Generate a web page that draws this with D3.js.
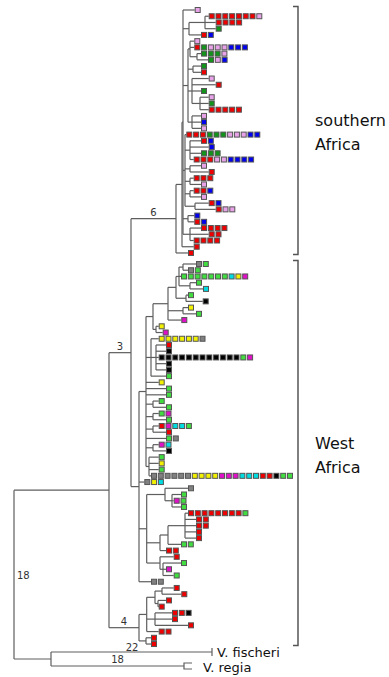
<!DOCTYPE html>
<html><head><meta charset="utf-8">
<script src="https://cdn.jsdelivr.net/npm/d3@7"></script>
<style>body{margin:0;background:#fff}svg{display:block}</style>
</head><body><svg id="chart" width="389" height="677"></svg>
<script>
// ---------- DATA ----------
// colour codes per leaf (left to right squares)
const southernColors = ["P","RRRRRRRP","RRRR","g","RB","P","RgPPPBBB","gggP","gPB","g",
  "R","P","R","g","P","g","RRRRR","P","B","P",
  "RRRgggPPPBB","RB","B","ggg","RRRPPBBBB","P","R","RRR","P","RRB",
  "P","RB","RPP","B","RB","RRRR","RR","RRRR","R","R"];
const westColors = ["AG","AG","GGGGGGGCYM","G","C","G","K","Y","G","M",
  "Y","M","YYYYYYA","R","K","KKKKKKKKKKKKGM","K","K","G","Y",
  "G","G","G","G","GM","G","RMCCG","R","GA","MC",
  "K","G","Y","G","AAAAAAYYYYMMMCCCRRKGG","AYC","A","G","MG","G",
  "RRRRRRRRG","RR","RR","R","R","GG","RR","R","G","M","G","AA"];
const basalColors = ["R","R","R","R","RRK","R","R","RR","R","R"];
const outgroupNames = {fischeri:"V. fischeri", regia:"V. regia"};
const colorNames = {R:"#ee0000",P:"#e8a2e8",B:"#0000ee",g:"#12941a",G:"#40dc40",
  Y:"#f0f000",C:"#00dce0",M:"#e010c8",K:"#000000",A:"#808080"};

// trees: "(children)name:depth", leaf "id:depth" (depth = distance from root)
const southernTree = "(((s0:180.7,((s1:194.7,s2:201.7,s3:201.7):191,s4:187):175,((s5:180.3,s6:180.3,(s7:187,s8:194):183):176,(s9:187,s10:187):179,(s11:194.7,s12:201.7,s13:187,(s14:194.7,s15:194.7,s16:194.7):186):178,(s17:187,s18:187,s19:187):178):174,(s20:172.3,(s21:187,s22:194.7,s23:187,s24:179.7):176,(s25:187,s26:194.7):176,(s27:179.7,s28:187):176,(s29:179.7,s30:187):176,(s31:194.7,s32:201.7):181):171,(s33:180.3,s34:180.3):174,(s35:187,s36:194.7,s37:179.7):176):169,s38:179.7):168,s39:174)S:162";
const westTree = "(((((((w0:182,w1:174):169,w2:167,(w3:182,w4:189):176):165,(w5:174,w6:188.7):172):162,(w7:174,w8:182):169,w9:167.3):154,(w10:144.7,w11:148.7):142):139,(w12:144.7,(w13:152,w14:152,w15:144.7,w16:152,w17:152):142,w18:152):137,w19:144.7,w20:152,w21:152,(w22:144.7,w23:152):139,(w24:144.7,w25:152):139,(w26:144.7,w27:152):139,w28:152,(w29:144.7,w30:152):139,(w31:144.7,w32:144.7,w33:144.7,w34:137):135):132,w35:130.3,((w36:174,(w37:167,w38:159.7,w39:167):158):151,(((w40:174,w41:182,w42:182,w43:182,w44:182):171,w45:167):154,w46:152):146,(w47:159.7,(w48:167,w49:152,w50:159.7):149):146):132.7,w51:137)W:125";
const basalTree = "((((b0:159.7,b1:167.3):148,(b2:152,b3:144.7):144):141,(b4:158,b5:158,b6:174):141,b7:144.7):132.7,(b8:137,b9:137)C4b:132)C4:125";
const backboneTree = "(((SOUTH,WEST)A:117,BASAL)IN:95,(fischeri:198,regia:170)OUT:37)ROOT:0";

const supportLabels = [
  {node:"S", text:"6", place:"above"},
  {node:"A", text:"3", place:"above"},
  {node:"C4", text:"4", place:"above"},
  {node:"C4b", text:"22", place:"belowleft"},
  {node:"ROOT", text:"18", place:"right"},
  {node:"regia", text:"18", place:"above"}
];
const cladeBrackets = [
  {lines:["southern","Africa"], from:"s0", to:"s39"},
  {lines:["West","Africa"], from:"w0", to:"b9"}
];

// ---------- LAYOUT ----------
const svg = d3.select("#chart");
svg.append("rect").attr("width",389).attr("height",677).attr("fill","#fff");

function parseTree(str){
  const s = str.replace(/\s+/g,"");
  let i = 0;
  function readUntil(re){ const st=i; while(i<s.length && !re.test(s[i])) i++; return s.slice(st,i); }
  function node(){
    const n = {};
    if (s[i]==="("){
      i++; n.children=[node()];
      while (s[i]===","){ i++; n.children.push(node()); }
      i++;
    }
    n.name = readUntil(/[:,()]/);
    if (s[i]===":"){ i++; n.depth = +readUntil(/[,()]/); }
    return n;
  }
  return node();
}

const fullTree = backboneTree.replace("SOUTH", southernTree).replace("WEST", westTree).replace("BASAL", basalTree);
const root = d3.hierarchy(parseTree(fullTree));

const colorsById = {};
southernColors.forEach((c,i)=>colorsById["s"+i]=c);
westColors.forEach((c,i)=>colorsById["w"+i]=c);
basalColors.forEach((c,i)=>colorsById["b"+i]=c);

const xScale = d3.scaleLinear().domain([0,200]).range([14,214]);
const yScale = d3.scaleLinear().domain([0,1]).range([10,16.23]);
const rowGapBefore = {w0:0.77, fischeri:0.28, regia:1.25};

let extra = 0;
const leaves = root.leaves();
leaves.forEach((lf,k)=>{
  extra += rowGapBefore[lf.data.name] || 0;
  lf.y = yScale(k + extra);
});
root.eachAfter(n=>{
  n.x = xScale(n.data.depth);
  if (n.children) n.y = (n.children[0].y + n.children[n.children.length-1].y)/2;
});
const byName = {};
root.each(n=>{ if(n.data.name) byName[n.data.name]=n; });

const lineColor = "#5e5e5e";
const g = svg.append("g").attr("fill","none").attr("stroke",lineColor).attr("stroke-width",1.2);
root.descendants().forEach(n=>{
  if (n.parent) g.append("line").attr("x1",n.parent.x).attr("x2",n.x).attr("y1",n.y).attr("y2",n.y);
  if (n.children) g.append("line").attr("x1",n.x).attr("x2",n.x)
    .attr("y1",n.children[0].y).attr("y2",n.children[n.children.length-1].y);
});

// outgroup tip decorations
const fis = byName.fischeri, reg = byName.regia;
g.append("line").attr("x1",fis.x).attr("x2",fis.x).attr("y1",fis.y-4).attr("y2",fis.y+4);
g.append("path").attr("d",`M${reg.x+8},${reg.y-3}H${reg.x}V${reg.y+3}H${reg.x+8}`);

const txt = svg.append("g").attr("font-family","'DejaVu Sans', sans-serif").attr("fill","#111");
txt.append("text").attr("x",fis.x+5).attr("y",fis.y+5).attr("font-size",13).text(outgroupNames.fischeri);
txt.append("text").attr("x",reg.x+19).attr("y",reg.y+6).attr("font-size",13).text(outgroupNames.regia);

// squares
const sq = [];
leaves.forEach(lf=>{
  const code = colorsById[lf.data.name];
  if (!code) return;
  [...code].forEach((c,i)=> sq.push({x: lf.x + 3 + i*6.8, y: lf.y, c}));
});
svg.append("g").selectAll("rect").data(sq).join("rect")
  .attr("x",d=>d.x-2.5).attr("y",d=>d.y-2.5).attr("width",5).attr("height",5)
  .attr("fill",d=>colorNames[d.c]).attr("stroke","#555").attr("stroke-width",1);

// support values
supportLabels.forEach(l=>{
  const n = byName[l.node];
  let x, y, anchor="middle";
  if (l.place==="above"){ x=(n.parent.x+n.x)/2; y=n.y-3; }
  else if (l.place==="belowleft"){ x=n.parent.x-7; y=n.y+10.5; }
  else { x=n.x+3; y=n.y+4; anchor="start"; }
  txt.append("text").attr("x",x).attr("y",y).attr("text-anchor",anchor)
    .attr("font-size",10).attr("fill","#333").text(l.text);
});

// clade brackets
cladeBrackets.forEach(b=>{
  const y0 = byName[b.from].y - 3.5, y1 = byName[b.to].y + 1.5, bx = 298;
  svg.append("path").attr("d",`M${bx-5},${y0}H${bx}V${y1}H${bx-5}`)
    .attr("fill","none").attr("stroke","#555").attr("stroke-width",1.5);
  const mid = (y0+y1)/2;
  b.lines.forEach((t,i)=> txt.append("text").attr("x",315).attr("y",mid-4+i*24)
    .attr("font-size",16).text(t));
});
</script></body></html>
